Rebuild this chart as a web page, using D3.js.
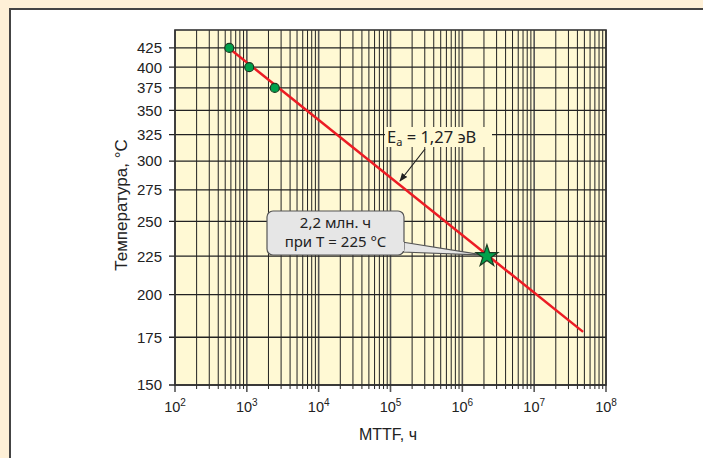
<!DOCTYPE html>
<html>
<head>
<meta charset="utf-8">
<script src="https://cdn.jsdelivr.net/npm/d3@7"></script>
<style>
    body { margin: 0; background: #fef0d7; }
    svg { display: block; font-family: "Liberation Sans", Arial, sans-serif; }
</style>
</head>
<body>
<svg id="chart" width="703" height="458"></svg>
<script>
// данные
const tempTicks = [150, 175, 200, 225, 250, 275, 300, 325, 350, 375, 400, 425];
const decades = [2, 3, 4, 5, 6, 7, 8];
const testPoints = [
    { t: 425, mttf: 570 },
    { t: 400, mttf: 1080 },
    { t: 375, mttf: 2450 }
];
const fitLine = [
    { t: 425, mttf: 560 },
    { t: 178, mttf: 4.8e7 }
];
const marked = { t: 225, mttf: 2.2e6 };
const calloutLines = ["2,2 млн. ч", "при T = 225 °C"];

const svg = d3.select("#chart");

// рамка панели
svg.append("rect")
    .attr("x", 10).attr("y", 9)
    .attr("width", 710).attr("height", 470)
    .attr("fill", "white")
    .attr("stroke", "#444").attr("stroke-width", 2);

const pLeft = 175, pRight = 606, pTop = 30, pBottom = 385;

const x = d3.scaleLog().domain([1e2, 1e8]).range([pLeft, pRight]);
// ось Аррениуса: линейно по 1/T (K)
const inv = t => 1 / (t + 273.15);
const yLin = d3.scaleLinear().domain([inv(150), inv(450)]).range([pBottom, pTop]);
const y = t => yLin(inv(t));

const g = svg.append("g");

g.append("rect")
    .attr("x", pLeft).attr("y", pTop)
    .attr("width", pRight - pLeft).attr("height", pBottom - pTop)
    .attr("fill", "#fff9d4");

// вертикальная сетка (лог)
const minor = [];
decades.slice(0, -1).forEach(d => {
    for (let m = 2; m <= 9; m++) minor.push(m * Math.pow(10, d));
});
const major = decades.map(d => Math.pow(10, d));

g.selectAll(".vminor")
    .data(minor)
    .enter().append("line")
    .attr("x1", d => x(d)).attr("x2", d => x(d))
    .attr("y1", pTop).attr("y2", pBottom + 4)
    .attr("stroke", "#222").attr("stroke-width", 1);

g.selectAll(".vmajor")
    .data(major)
    .enter().append("line")
    .attr("x1", d => x(d)).attr("x2", d => x(d))
    .attr("y1", pTop).attr("y2", pBottom + 7)
    .attr("stroke", "#555").attr("stroke-width", 1.6);

// горизонтальная сетка
g.selectAll(".hgrid")
    .data(tempTicks)
    .enter().append("line")
    .attr("x1", pLeft - 6).attr("x2", pRight)
    .attr("y1", d => y(d)).attr("y2", d => y(d))
    .attr("stroke", "#222").attr("stroke-width", 1.3);

// рамка графика
g.append("rect")
    .attr("x", pLeft).attr("y", pTop)
    .attr("width", pRight - pLeft).attr("height", pBottom - pTop)
    .attr("fill", "none")
    .attr("stroke", "#333").attr("stroke-width", 1.6);

// подписи оси Y
g.selectAll(".ylab")
    .data(tempTicks)
    .enter().append("text")
    .attr("x", pLeft - 13)
    .attr("y", d => y(d))
    .attr("dy", "0.36em")
    .attr("text-anchor", "end")
    .attr("font-size", 15)
    .attr("fill", "#222")
    .text(d => d);

// подписи оси X
const xl = g.selectAll(".xlab")
    .data(decades)
    .enter().append("text")
    .attr("x", d => x(Math.pow(10, d)))
    .attr("y", pBottom + 27)
    .attr("text-anchor", "middle")
    .attr("font-size", 14.5)
    .attr("fill", "#222");
xl.append("tspan").text("10");
xl.append("tspan").attr("font-size", 10).attr("dy", -6).text(d => d);

svg.append("text")
    .attr("transform", "translate(127,205) rotate(-90)")
    .attr("text-anchor", "middle")
    .attr("font-size", 17)
    .attr("fill", "#222")
    .text("Температура, °C");

svg.append("text")
    .attr("x", 388).attr("y", 440)
    .attr("text-anchor", "middle")
    .attr("font-size", 16)
    .attr("fill", "#222")
    .text("MTTF, ч");

// линия аппроксимации
const line = d3.line().x(d => x(d.mttf)).y(d => y(d.t));
g.append("path")
    .datum(fitLine)
    .attr("d", line)
    .attr("fill", "none")
    .attr("stroke", "#ec1c24")
    .attr("stroke-width", 2.5);

g.selectAll(".pt")
    .data(testPoints)
    .enter().append("circle")
    .attr("cx", d => x(d.mttf)).attr("cy", d => y(d.t))
    .attr("r", 4.5)
    .attr("fill", "#00a14b")
    .attr("stroke", "#1b3b22").attr("stroke-width", 1.2);

// подпись Ea
const ea = g.append("g");
ea.append("rect")
    .attr("x", 385).attr("y", 127)
    .attr("width", 107).attr("height", 20)
    .attr("fill", "#fff9d4");
const eaText = ea.append("text")
    .attr("x", 387).attr("y", 143)
    .attr("font-family", "'Noto Sans', sans-serif")
    .attr("font-size", 16.5)
    .attr("fill", "#222");
eaText.append("tspan").text("E");
eaText.append("tspan").attr("font-size", 11).attr("dy", 3).text("a");
eaText.append("tspan").attr("dy", -3).text(" = 1,27 эВ");

svg.append("defs").append("marker")
    .attr("id", "arr")
    .attr("viewBox", "0 0 10 10")
    .attr("refX", 9).attr("refY", 5)
    .attr("markerWidth", 7).attr("markerHeight", 7)
    .attr("orient", "auto")
    .append("path")
    .attr("d", "M0,1 L10,5 L0,9 Z")
    .attr("fill", "#222");

g.append("line")
    .attr("x1", 425).attr("y1", 149)
    .attr("x2", 400).attr("y2", 181)
    .attr("stroke", "#222").attr("stroke-width", 1.2)
    .attr("marker-end", "url(#arr)");

// выноска
const sx = x(marked.mttf), sy = y(marked.t);
const bx = 267, by = 211, bw = 137, bh = 44;
g.append("path")
    .attr("d", `M${bx + bw - 2},${by + bh - 13} L${sx - 3},${sy - 1} L${bx + bw - 2},${by + bh - 3} Z`)
    .attr("fill", "#e6e6e6")
    .attr("stroke", "#555").attr("stroke-width", 1.2);
g.append("rect")
    .attr("x", bx).attr("y", by)
    .attr("width", bw).attr("height", bh)
    .attr("rx", 6)
    .attr("fill", "#e6e6e6")
    .attr("stroke", "#555").attr("stroke-width", 1.2);
g.append("rect")
    .attr("x", bx + bw - 4).attr("y", by + bh - 13)
    .attr("width", 4).attr("height", 9)
    .attr("fill", "#e6e6e6");
g.selectAll(".call")
    .data(calloutLines)
    .enter().append("text")
    .attr("x", bx + bw / 2)
    .attr("y", (d, i) => 228 + i * 19)
    .attr("text-anchor", "middle")
    .attr("font-family", "'Noto Sans', sans-serif")
    .attr("font-size", 15)
    .attr("fill", "#222")
    .text(d => d);

// звезда
g.append("path")
    .attr("d", d3.symbol().type(d3.symbolStar).size(150)())
    .attr("transform", `translate(${sx},${sy})`)
    .attr("fill", "#00a14b")
    .attr("stroke", "#1b3b22").attr("stroke-width", 1.2);
</script>
</body>
</html>
